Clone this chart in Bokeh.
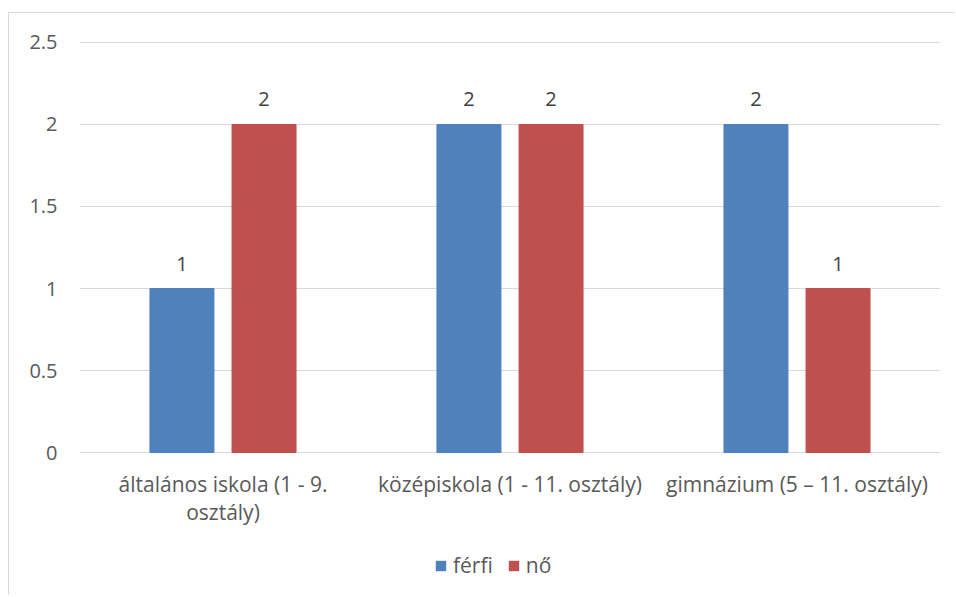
from bokeh.plotting import figure
from bokeh.layouts import column
from bokeh.models import (ColumnDataSource, Range1d, Legend, LegendItem, LabelSet, FixedTicker, LinearAxis)
from bokeh.core.properties import value
from bokeh.embed import file_html
from bokeh.resources import INLINE

categories = ["általános iskola (1 - 9. osztály)", "középiskola (1 - 11. osztály)", "gimnázium (5 – 11. osztály)"]
category_lines_1 = ["általános iskola (1 - 9.", "középiskola (1 - 11. osztály)", "gimnázium (5 – 11. osztály)"]
category_lines_2 = ["osztály)", "", ""]
ferfi = [1, 2, 2]
no = [2, 2, 1]
series_names = ["férfi", "nő"]
y_ticks = [0, 0.5, 1, 1.5, 2, 2.5]
y_tick_labels = ["0", "0.5", "1", "1.5", "2", "2.5"]

FONT = "Open Sans"
FS = "20px"
FSX = "21px"
BLUE = "#4f81bd"
RED = "#c0504d"
GRID = "#d9d9d9"
OFF = 0.143
BW = 0.223
PAD = 0.006  # keeps the 0 and 2.5 gridlines just inside the frame

idx = [i + 0.5 for i in range(len(categories))]
src = ColumnDataSource(dict(cat=categories, pos=idx,
                            x_f=[v - OFF for v in idx], x_n=[v + OFF for v in idx],
                            ferfi=ferfi, no=no,
                            ferfi_t=[str(v) for v in ferfi], no_t=[str(v) for v in no]))

p = figure(width=946, height=535, x_range=Range1d(0, len(categories)),
           y_range=Range1d(y_ticks[0] - PAD, y_ticks[-1] + PAD),
           output_backend="svg", toolbar_location=None, x_axis_location=None,
           min_border_left=70, min_border_right=15, min_border_top=28, min_border_bottom=95)
p.margin = (12, 0, 0, 8)
p.styles = {"border-left": "1px solid " + GRID, "border-top": "1px solid " + GRID}
p.outline_line_color = None
p.background_fill_color = "white"
p.border_fill_color = "white"

r1 = p.vbar(x="x_f", top="ferfi", width=BW, source=src, fill_color=BLUE, line_color=BLUE)
r2 = p.vbar(x="x_n", top="no", width=BW, source=src, fill_color=RED, line_color=RED)

for xcol, col in (("x_f", "ferfi"), ("x_n", "no")):
    p.add_layout(LabelSet(x=xcol, y=col, text=col + "_t", source=src,
                          text_align="center", text_baseline="middle", y_offset=25,
                          text_font=value(FONT), text_font_size=value(FS), text_color="#404040"))

p.xgrid.grid_line_color = None
p.ygrid.grid_line_color = GRID
p.ygrid.grid_line_width = 1
p.yaxis.ticker = FixedTicker(ticks=y_ticks)
p.yaxis.major_label_overrides = {t: l for t, l in zip(y_ticks, y_tick_labels)}

ax1 = LinearAxis(ticker=FixedTicker(ticks=idx),
                 major_label_overrides={t: l for t, l in zip(idx, category_lines_1)})
ax2 = LinearAxis(ticker=FixedTicker(ticks=[t for t, l in zip(idx, category_lines_2) if l]),
                 major_label_overrides={t: l for t, l in zip(idx, category_lines_2) if l})
p.add_layout(ax1, "below")
p.add_layout(ax2, "below")

for ax in (ax1, ax2, p.yaxis[0]):
    ax.axis_line_color = None
    ax.major_tick_line_color = None
    ax.minor_tick_line_color = None
    ax.major_tick_out = 0
    ax.major_tick_in = 0
    ax.major_label_text_font = FONT
    ax.major_label_text_font_size = FSX
    ax.major_label_text_color = "#595959"
p.yaxis.major_label_text_font_size = FS
p.yaxis.major_label_standoff = 22
ax1.major_label_standoff = 16
ax2.major_label_standoff = -3

# legend strip below the chart
pl = figure(width=946, height=48, x_range=Range1d(0, 1), y_range=Range1d(0, 1),
            output_backend="svg", toolbar_location=None, x_axis_location=None, y_axis_location=None,
            min_border=0, min_border_left=70)
pl.margin = (0, 0, 0, 8)
pl.styles = {"border-left": "1px solid " + GRID}
pl.outline_line_color = None
pl.grid.visible = False
# swatch-only renderers for the legend (kept below the visible range, no outline)
lr1 = pl.vbar(x=[0.5], top=[-2], bottom=[-3], width=0.01, fill_color=BLUE, line_alpha=0)
lr2 = pl.vbar(x=[0.5], top=[-2], bottom=[-3], width=0.01, fill_color=RED, line_alpha=0)
legend = Legend(items=[LegendItem(label=series_names[0], renderers=[lr1]),
                       LegendItem(label=series_names[1], renderers=[lr2])],
                orientation="horizontal", location=(355, 16),
                glyph_width=13, glyph_height=13, padding=0, margin=0, spacing=14,
                label_standoff=6, label_text_font=FONT, label_text_font_size=FSX,
                label_text_color="#595959", border_line_color=None, background_fill_alpha=0)
pl.add_layout(legend, "center")

layout = column(p, pl, spacing=0)
open("out.html", "w").write(file_html(layout, INLINE))
